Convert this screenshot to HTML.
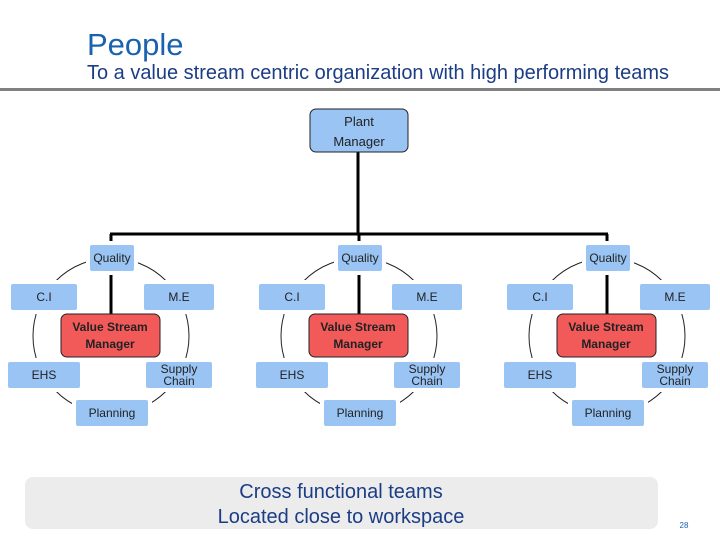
<!DOCTYPE html>
<html><head><style>
body{margin:0;background:#fff;}
svg{display:block;font-family:"Liberation Sans",Arial,sans-serif;}
</style></head><body>
<svg width="720" height="540" viewBox="0 0 720 540" xmlns="http://www.w3.org/2000/svg">
<defs>
<g id="cl">
  <circle cx="111" cy="336" r="78" fill="none" stroke="#222" stroke-width="1"/>
  <line x1="111" y1="272" x2="111" y2="315" stroke="#000" stroke-width="3"/>
  <g fill="#99c4f4" stroke="#fff" stroke-width="4">
    <rect x="88" y="243" width="48" height="30" rx="4"/>
    <rect x="9" y="282" width="70" height="30" rx="4"/>
    <rect x="142" y="282" width="74" height="30" rx="4"/>
    <rect x="6" y="360" width="76" height="30" rx="4"/>
    <rect x="144" y="360" width="70" height="30" rx="4"/>
    <rect x="74" y="398" width="76" height="30" rx="4"/>
  </g>
  <rect x="61" y="314" width="99" height="43" rx="6" fill="#f25a5a" stroke="#222" stroke-width="1"/>
  <g font-size="12" fill="#222" text-anchor="middle">
    <text x="112" y="262">Quality</text>
    <text x="44" y="301">C.I</text>
    <text x="179" y="301">M.E</text>
    <text x="44" y="379">EHS</text>
    <text x="179" y="373">Supply</text>
    <text x="179" y="385">Chain</text>
    <text x="112" y="417">Planning</text>
    <text x="110" y="331" font-weight="bold" font-size="12">Value Stream</text>
    <text x="110" y="348" font-weight="bold" font-size="12">Manager</text>
  </g>
</g>
</defs>
<text x="87" y="55" font-size="31" fill="#1a62b0">People</text>
<text x="87" y="79" font-size="20" fill="#1b3d85" textLength="582" lengthAdjust="spacingAndGlyphs">To a value stream centric organization with high performing teams</text>
<rect x="0" y="88" width="720" height="3" fill="#808080"/>

<line x1="358" y1="152" x2="358" y2="234" stroke="#000" stroke-width="3"/>
<line x1="110" y1="234" x2="608" y2="234" stroke="#000" stroke-width="3"/>
<line x1="111" y1="234" x2="111" y2="244" stroke="#000" stroke-width="3"/>
<line x1="359" y1="234" x2="359" y2="244" stroke="#000" stroke-width="3"/>
<line x1="607" y1="234" x2="607" y2="244" stroke="#000" stroke-width="3"/>
<rect x="310" y="109" width="98" height="43" rx="6" fill="#99c4f4" stroke="#222" stroke-width="1"/>
<text x="359" y="126" font-size="13" fill="#222" text-anchor="middle">Plant</text>
<text x="359" y="146" font-size="13" fill="#222" text-anchor="middle">Manager</text>

<use href="#cl"/>
<use href="#cl" x="248"/>
<use href="#cl" x="496"/>

<rect x="25" y="477" width="633" height="52" rx="8" fill="#ececec"/>
<text x="341" y="498" font-size="20" fill="#1b3d85" text-anchor="middle">Cross functional teams</text>
<text x="341" y="523" font-size="20" fill="#1b3d85" text-anchor="middle">Located close to workspace</text>
<text x="684" y="528" font-size="8" fill="#1a62b0" text-anchor="middle">28</text>
</svg>
</body></html>
